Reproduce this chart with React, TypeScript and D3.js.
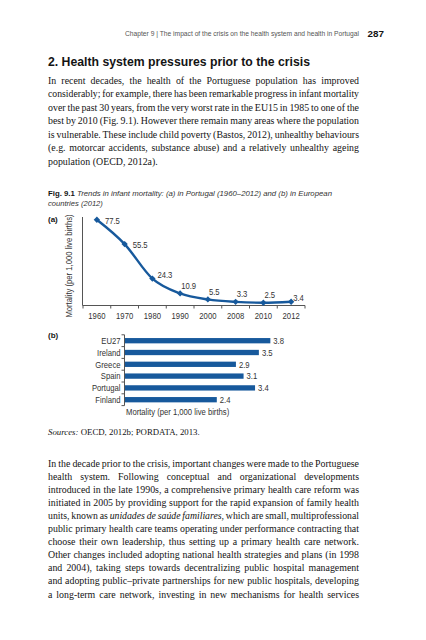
import React, { useEffect, useRef } from 'react';
import * as d3 from 'd3';

// ---------- data ----------
const years = ['1960', '1970', '1980', '1990', '2000', '2008', '2010', '2012'];
const portugalMortality = [77.5, 55.5, 24.3, 10.9, 5.5, 3.3, 2.5, 3.4];
const countries = ['EU27', 'Ireland', 'Greece', 'Spain', 'Portugal', 'Finland'];
const countryMortality = [3.8, 3.5, 2.9, 3.1, 3.4, 2.4];
const axisTitle = 'Mortality (per 1,000 live births)';

const headerText = 'Chapter 9 | The impact of the crisis on the health system and health in Portugal';
const pageNumber = '287';
const headingText = '2. Health system pressures prior to the crisis';
const para1 = [
  'In recent decades, the health of the Portuguese population has improved',
  'considerably; for example, there has been remarkable progress in infant mortality',
  'over the past 30 years, from the very worst rate in the EU15 in 1985 to one of the',
  'best by 2010 (Fig. 9.1). However there remain many areas where the population',
  'is vulnerable. These include child poverty (Bastos, 2012), unhealthy behaviours',
  '(e.g. motorcar accidents, substance abuse) and a relatively unhealthy ageing',
  'population (OECD, 2012a).',
];
const captionLabel = 'Fig. 9.1';
const captionLines = [
  'Trends in infant mortality: (a) in Portugal (1960–2012) and (b) in European',
  'countries (2012)',
];
const sourcesLabel = 'Sources:';
const sourcesText = ' OECD, 2012b; PORDATA, 2013.';
const para2 = [
  'In the decade prior to the crisis, important changes were made to the Portuguese',
  'health system. Following conceptual and organizational developments',
  'introduced in the late 1990s, a comprehensive primary health care reform was',
  'initiated in 2005 by providing support for the rapid expansion of family health',
  'units, known as _unidades de saúde familiares_, which are small, multiprofessional',
  'public primary health care teams operating under performance contracting that',
  'choose their own leadership, thus setting up a primary health care network.',
  'Other changes included adopting national health strategies and plans (in 1998',
  'and 2004), taking steps towards decentralizing public hospital management',
  'and adopting public–private partnerships for new public hospitals, developing',
  'a long-term care network, investing in new mechanisms for health services',
];

// ---------- styles ----------
const SANS = "'Liberation Sans', Arial, sans-serif";
const SERIF = "'Liberation Serif', 'Times New Roman', serif";
const BLUE = '#17599c';
const TEXT = '#141414';
const LABEL = '#333333';
const NARROW = 0.8;

const TEXT_LEFT = 48;
const TEXT_WIDTH = 311;

function parseSegments(line: string) {
  const parts = line.split('_');
  return parts.map((t, i) => ({ t, italic: i % 2 === 1 })).filter((p) => p.t.length > 0);
}

function Narrow({
  x,
  y,
  anchor = 'start',
  rotate = 0,
  size = 9.6,
  children,
}: {
  x: number;
  y: number;
  anchor?: string;
  rotate?: number;
  size?: number;
  children: React.ReactNode;
}) {
  return (
    <g transform={`translate(${x},${y}) rotate(${rotate}) scale(${NARROW},1)`}>
      <text x={0} y={0} dy="0.35em" textAnchor={anchor} fontFamily={SANS} fontSize={size} fill={LABEL}>
        {children}
      </text>
    </g>
  );
}

function Paragraph({ lines, y0, lh, justifyLast }: { lines: string[]; y0: number; lh: number; justifyLast: boolean }) {
  return (
    <g fontFamily={SERIF} fontSize={9.9} fill={TEXT}>
      {lines.map((line, i) => {
        const justify = justifyLast || i < lines.length - 1;
        return (
          <text
            key={i}
            x={TEXT_LEFT}
            y={y0 + i * lh}
            className={justify ? 'justify' : undefined}
            data-width={TEXT_WIDTH}
          >
            {parseSegments(line).map((s, j) => (
              <tspan key={j} fontStyle={s.italic ? 'italic' : 'normal'}>
                {s.t}
              </tspan>
            ))}
          </text>
        );
      })}
    </g>
  );
}

function LineChart() {
  const x = d3.scaleBand<string>().domain(years).range([83, 305]).padding(0);
  const y = d3.scaleLinear().domain([0, 80]).range([305.5, 217]);
  const cx = (i: number) => (x(years[i]) as number) + x.bandwidth() / 2;
  const line = d3
    .line<number>()
    .x((_, i) => cx(i))
    .y((d) => y(d))
    .curve(d3.curveMonotoneX);
  const marker = d3.symbol().type(d3.symbolSquare).size(20)();
  const boundaries = years.map((yr) => x(yr) as number).concat([x.range()[1]]);
  const labelOffset = (v: number, i: number) => {
    if (v > 50) return [8, 1];
    if (v > 20) return [5, -4];
    if (i === years.length - 1) return [2, -4.5];
    return [1, -8];
  };
  return (
    <g>
      <line x1={82.5} x2={82.5} y1={y(80)} y2={y(0)} stroke="#555" strokeWidth={1} />
      <line x1={82.5} x2={x.range()[1]} y1={y(0)} y2={y(0)} stroke="#555" strokeWidth={1} />
      {boundaries.map((b, i) => (
        <line key={i} x1={b} x2={b} y1={y(0)} y2={y(0) + 3} stroke="#555" strokeWidth={1} />
      ))}
      {years.map((yr, i) => (
        <Narrow key={yr} x={cx(i)} y={316} anchor="middle">
          {yr}
        </Narrow>
      ))}
      <Narrow x={69} y={266} anchor="middle" rotate={-90}>
        {axisTitle}
      </Narrow>
      <path d={line(portugalMortality) || ''} fill="none" stroke={BLUE} strokeWidth={2.4} strokeLinejoin="round" />
      {portugalMortality.map((v, i) => (
        <path key={i} d={marker || ''} transform={`translate(${cx(i)},${y(v)}) rotate(45)`} fill={BLUE} />
      ))}
      {portugalMortality.map((v, i) => {
        const [dx, dy] = labelOffset(v, i);
        return (
          <Narrow key={i} x={cx(i) + dx} y={y(v) + dy}>
            {v.toFixed(1)}
          </Narrow>
        );
      })}
    </g>
  );
}

function BarChart() {
  const yb = d3.scaleBand<string>().domain(countries).range([334.8, 405.6]).paddingInner(0.55).paddingOuter(0.275);
  const xb = d3.scaleLinear().domain([0, 4]).range([125, 278]);
  const step = yb.step();
  const ticks = countries
    .map((c) => (yb(c) as number) + yb.bandwidth() / 2 - step / 2)
    .concat([(yb(countries[countries.length - 1]) as number) + yb.bandwidth() / 2 + step / 2]);
  return (
    <g>
      {countries.map((c, i) => (
        <rect
          key={c}
          x={xb(0)}
          y={yb(c) as number}
          width={xb(countryMortality[i]) - xb(0)}
          height={yb.bandwidth()}
          fill={BLUE}
        />
      ))}
      <line x1={124.5} x2={124.5} y1={ticks[0]} y2={ticks[ticks.length - 1]} stroke="#555" strokeWidth={1} />
      {ticks.map((t, i) => (
        <line key={i} x1={121.5} x2={124.5} y1={t} y2={t} stroke="#555" strokeWidth={1} />
      ))}
      {countries.map((c) => (
        <Narrow key={c} x={120.5} y={(yb(c) as number) + yb.bandwidth() / 2} anchor="end">
          {c}
        </Narrow>
      ))}
      {countries.map((c, i) => (
        <Narrow key={c} x={xb(countryMortality[i]) + 3} y={(yb(c) as number) + yb.bandwidth() / 2}>
          {countryMortality[i].toFixed(1)}
        </Narrow>
      ))}
      <Narrow x={126} y={412}>
        {axisTitle}
      </Narrow>
    </g>
  );
}

export default function App() {
  const ref = useRef<SVGSVGElement>(null);
  useEffect(() => {
    if (!ref.current) return;
    d3.select(ref.current)
      .selectAll<SVGTextElement, unknown>('text.justify')
      .each(function () {
        const el = this as SVGTextElement;
        el.style.wordSpacing = '0px';
        el.removeAttribute('textLength');
        el.removeAttribute('lengthAdjust');
        const w = el.getComputedTextLength();
        const target = Number(el.getAttribute('data-width'));
        const n = ((el.textContent || '').match(/ /g) || []).length;
        if (n === 0) return;
        const ws = (target - w) / n;
        if (ws >= -0.6) {
          el.style.wordSpacing = `${ws}px`;
        } else {
          el.style.wordSpacing = '-0.6px';
          el.setAttribute('textLength', String(target));
          el.setAttribute('lengthAdjust', 'spacingAndGlyphs');
        }
      });
  }, []);

  return (
    <svg
      ref={ref}
      width={426}
      height={640}
      style={{ position: 'absolute', left: 0, top: 0, background: '#fff' }}
    >
      <rect width={426} height={640} fill="#fff" />
      <text x={125} y={35.5} fontFamily={SANS} fontSize={6.6} fill="#555" textLength={234} lengthAdjust="spacingAndGlyphs">
        {headerText}
      </text>
      <text x={367.5} y={36.5} fontFamily={SANS} fontSize={9.8} fontWeight="bold" fill={TEXT}>
        {pageNumber}
      </text>
      <text x={48} y={66} fontFamily={SANS} fontSize={12.4} fontWeight="bold" fill={TEXT} textLength={262} lengthAdjust="spacingAndGlyphs">
        {headingText}
      </text>
      <Paragraph lines={para1} y0={84} lh={13.43} justifyLast={false} />
      <text x={48} y={196} fontFamily={SANS} fontSize={7.6} fill="#333" textLength={284} lengthAdjust="spacingAndGlyphs">
        <tspan fontWeight="bold" fill={TEXT}>{captionLabel}</tspan>
        <tspan fontStyle="italic">{' ' + captionLines[0]}</tspan>
      </text>
      <text x={48} y={206} fontFamily={SANS} fontSize={7.6} fill="#333" fontStyle="italic">
        {captionLines[1]}
      </text>
      <text x={48} y={219.5} dy="0.35em" fontFamily={SANS} fontSize={8} fontWeight="bold" fill={TEXT}>
        (a)
      </text>
      <text x={48} y={335} dy="0.35em" fontFamily={SANS} fontSize={8} fontWeight="bold" fill={TEXT}>
        (b)
      </text>
      <LineChart />
      <BarChart />
      <text x={48} y={435} fontFamily={SERIF} fontSize={8.8} fill={TEXT}>
        <tspan fontStyle="italic">{sourcesLabel}</tspan>
        <tspan>{sourcesText}</tspan>
      </text>
      <Paragraph lines={para2} y0={466.5} lh={13.1} justifyLast={true} />
    </svg>
  );
}
